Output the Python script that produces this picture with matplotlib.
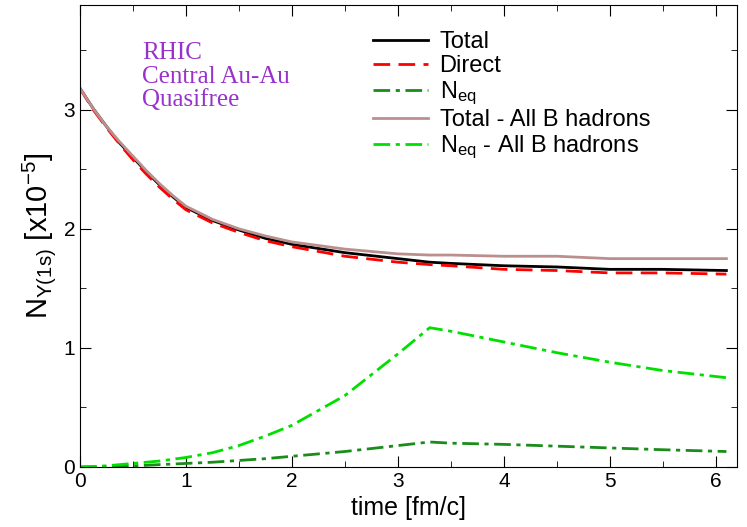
import matplotlib
matplotlib.use("Agg")
import matplotlib.pyplot as plt
from matplotlib.ticker import MultipleLocator

plt.rcParams['font.family'] = ['Liberation Sans', 'DejaVu Sans']
plt.rcParams['mathtext.default'] = 'regular'

t = [0, 0.125, 0.25, 0.375, 0.5, 0.625, 0.75, 0.875, 1.0, 1.25, 1.5, 1.75, 2.0, 2.5, 3.0, 3.3, 3.5, 4.0, 4.5, 5.0, 5.5, 6.1]
total = [3.18, 3.01, 2.86, 2.72, 2.60, 2.48, 2.37, 2.27, 2.18, 2.07, 1.99, 1.92, 1.87, 1.80, 1.75, 1.72, 1.71, 1.69, 1.68, 1.66, 1.66, 1.65]
direct = [3.18, 3.0, 2.85, 2.71, 2.58, 2.46, 2.35, 2.25, 2.16, 2.05, 1.97, 1.90, 1.85, 1.77, 1.72, 1.70, 1.69, 1.66, 1.65, 1.63, 1.63, 1.62]
total_b = [3.18, 3.01, 2.86, 2.73, 2.61, 2.49, 2.38, 2.28, 2.19, 2.08, 2.0, 1.94, 1.89, 1.83, 1.79, 1.78, 1.78, 1.77, 1.77, 1.75, 1.75, 1.75]
neq = [0, 0.002, 0.005, 0.007, 0.01, 0.014, 0.02, 0.025, 0.03, 0.04, 0.055, 0.07, 0.09, 0.13, 0.18, 0.21, 0.2, 0.19, 0.175, 0.16, 0.145, 0.13]
neq_b = [0, 0.004, 0.01, 0.02, 0.03, 0.04, 0.05, 0.065, 0.08, 0.12, 0.18, 0.26, 0.35, 0.6, 0.95, 1.17, 1.14, 1.05, 0.96, 0.88, 0.81, 0.75]

fig = plt.figure(figsize=(7.47, 5.27), dpi=100)
ax = fig.add_axes([80/747, 1-467/527, 657/747, 462/527])
ax.plot(t, total, color='black', lw=2, label='Total')
ax.plot(t, direct, color='red', lw=2, ls=(0, (6, 3)), label='Direct')
ax.plot(t, neq, color='#1a8c1a', lw=2, ls=(0, (6, 2, 1.5, 2)), label=r'N$_{eq}$')
ax.plot(t, total_b, color='#bc8f8f', lw=2, label='Total - All B hadrons')
ax.plot(t, neq_b, color='#00e000', lw=2, ls=(0, (6, 2, 1.5, 2)), label=r'N$_{eq}$ - All B hadrons')
ax.set_xlim(0, 6.2)
ax.set_ylim(0, 3.88)
ax.xaxis.set_major_locator(MultipleLocator(1))
ax.xaxis.set_minor_locator(MultipleLocator(0.5))
ax.yaxis.set_major_locator(MultipleLocator(1))
ax.yaxis.set_minor_locator(MultipleLocator(0.5))
ax.tick_params(which='both', direction='in', top=True, right=True, labelsize=15)
ax.tick_params(which='major', length=8)
ax.tick_params(which='minor', length=4)
ax.set_xlabel('time [fm/c]', fontsize=18)
ax.set_ylabel(r'N$_{\Upsilon(1s)}$ [x10$^{-5}$]', fontsize=21)
ax.legend(loc='upper right', bbox_to_anchor=(0.9, 0.99), frameon=False, fontsize=17,
          handlelength=2.3, labelspacing=0.1, handletextpad=0.5)
ax.text(0.095, 0.92, 'RHIC\nCentral Au-Au\nQuasifree', transform=ax.transAxes, color='#9932cc',
        fontsize=18, va='top', linespacing=1.1, family=['Liberation Serif'])
fig.savefig('out.png', dpi=100)
